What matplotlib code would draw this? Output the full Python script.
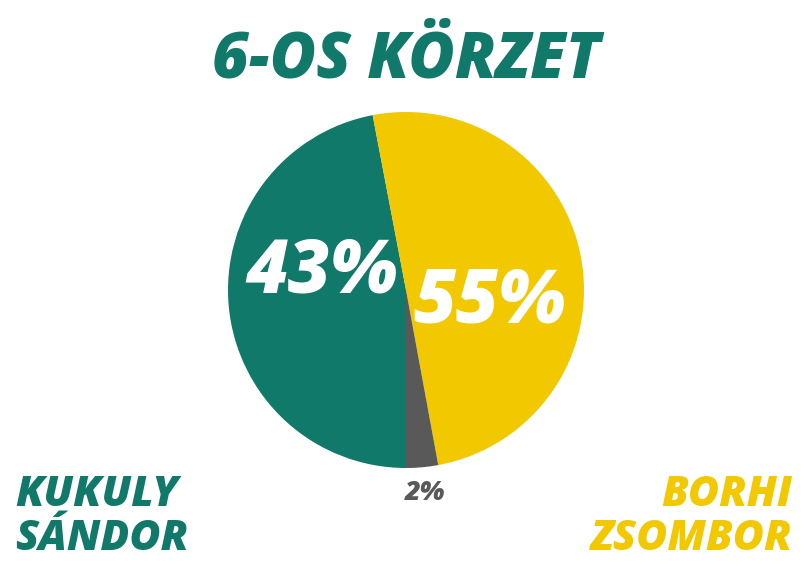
import matplotlib.pyplot as plt

# slice sizes as drawn (the printed labels differ slightly)
names = ["KUKULY\nSÁNDOR", "BORHI\nZSOMBOR", "other"]
sizes = [47.0, 50.1, 2.9]
labels = ["43%", "55%", "2%"]
colors = ["#11796a", "#f2c800", "#595959"]
title = "6-OS KÖRZET"

W, H = 810, 573
fig = plt.figure(figsize=(W / 100, H / 100), dpi=100)

fam = ["Open Sans", "DejaVu Sans"]
fw = 800

def px(x, y):
    return x / W, 1 - y / H

# pie axes: center (406, 290), radius 178 px
cx, cy, r = 406, 290, 178
ax = fig.add_axes([(cx - r) / W, (H - cy - r) / H, 2 * r / W, 2 * r / H])
ax.pie(sizes, colors=colors, startangle=270, counterclock=False,
       wedgeprops=dict(linewidth=0))
ax.set_xlim(-1, 1)
ax.set_ylim(-1, 1)
ax.set_aspect("auto")
ax.axis("off")

fig.text(*px(406, 60), title, ha="center", va="center", color=colors[0],
         fontsize=45.5, family=fam, weight=fw, style="italic")

fig.text(*px(322, 273), labels[0], ha="center", va="center", color="white",
         fontsize=53, family=fam, weight=fw, style="italic")
fig.text(*px(490, 303), labels[1], ha="center", va="center", color="white",
         fontsize=53, family=fam, weight=fw, style="italic")
fig.text(*px(425, 493), labels[2], ha="center", va="center", color=colors[2],
         fontsize=19.5, family=fam, weight=fw, style="italic")

fig.text(*px(15, 517), names[0], ha="left", va="center", color=colors[0],
         fontsize=30.5, family=fam, weight=fw, style="italic", linespacing=1.05)
fig.text(*px(792, 517), names[1], ha="right", va="center", color=colors[1],
         fontsize=30.5, family=fam, weight=fw, style="italic", linespacing=1.05,
         multialignment="right")

fig.savefig("out.png", dpi=100)
